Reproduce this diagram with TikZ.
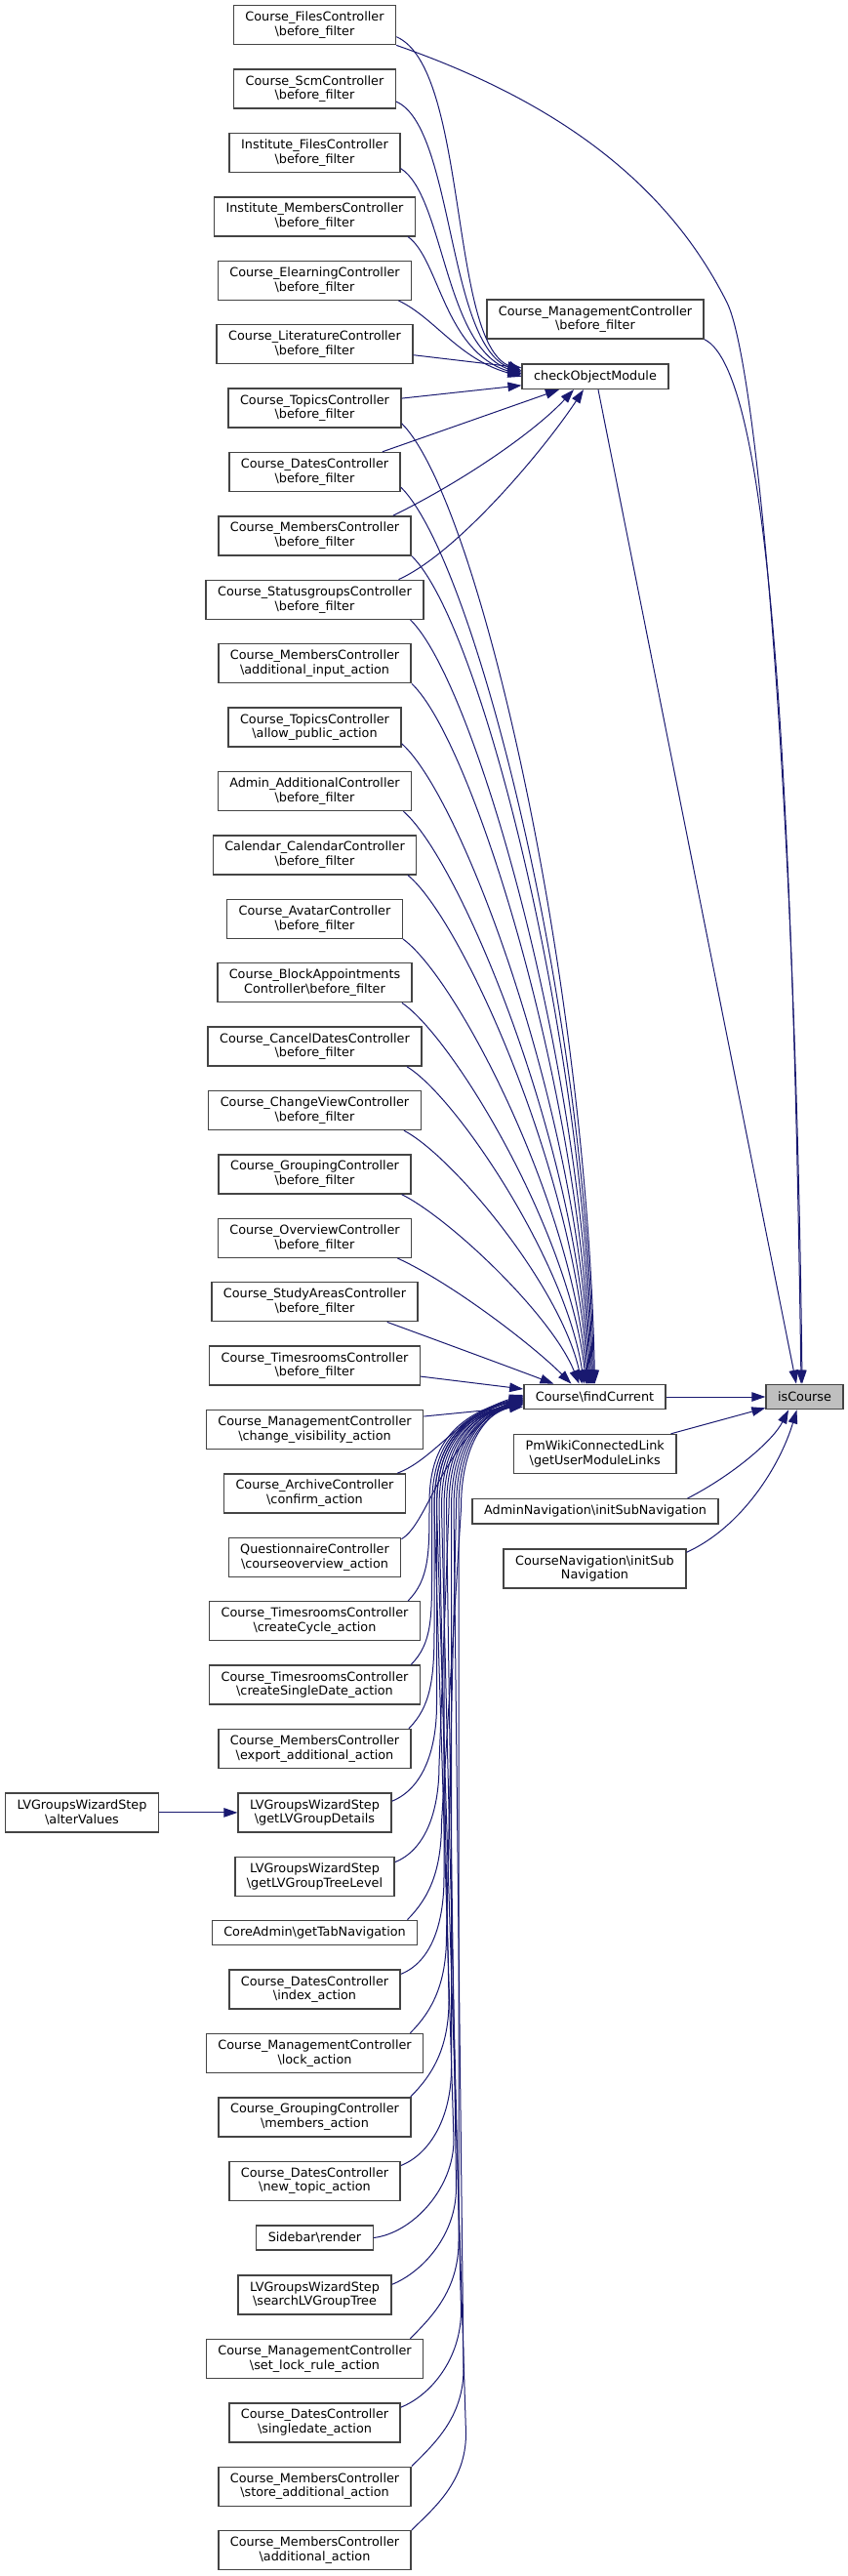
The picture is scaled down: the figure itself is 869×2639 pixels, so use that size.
\documentclass[tikz,border=0pt]{standalone}
\usepackage{fontspec}
\setmainfont{DejaVu Sans}
\usetikzlibrary{arrows.meta}
\definecolor{edgec}{HTML}{191970}
\definecolor{boxc}{HTML}{444444}
\definecolor{hlc}{HTML}{BFBFBF}
\newcommand{\bs}{\textbackslash}
\begin{document}
\begin{tikzpicture}[x=1pt,y=-1pt,
  fn/.style={draw=boxc, line width=1.4pt, fill=white, inner xsep=12pt, inner ysep=0pt, align=center, font=\fontsize{12.8pt}{14.7pt}\selectfont, minimum height=40pt},
  fn1/.style={fn, minimum height=25.3pt},
  edge/.style={draw=edgec, line width=1pt, -{Triangle[length=14pt,width=9.5pt]}}]
\useasboundingbox (0,0) rectangle (869,2639);
\fill[white] (0,0) rectangle (869,2639);
% left column
\node[fn] (n1) at (322.5,25.7) {Course\_FilesController\\\bs{}before\_filter};
\node[fn] (n2) at (322.5,91.1) {Course\_ScmController\\\bs{}before\_filter};
\node[fn] (n3) at (322.5,156.5) {Institute\_FilesController\\\bs{}before\_filter};
\node[fn] (n4) at (322.5,221.9) {Institute\_MembersController\\\bs{}before\_filter};
\node[fn] (n5) at (322.5,287.3) {Course\_ElearningController\\\bs{}before\_filter};
\node[fn] (n6) at (322.5,352.7) {Course\_LiteratureController\\\bs{}before\_filter};
\node[fn] (n7) at (322.5,418.1) {Course\_TopicsController\\\bs{}before\_filter};
\node[fn] (n8) at (322.5,483.5) {Course\_DatesController\\\bs{}before\_filter};
\node[fn] (n9) at (322.5,548.9) {Course\_MembersController\\\bs{}before\_filter};
\node[fn] (n10) at (322.5,614.3) {Course\_StatusgroupsController\\\bs{}before\_filter};
\node[fn] (n11) at (322.5,679.7) {Course\_MembersController\\\bs{}additional\_input\_action};
\node[fn] (n12) at (322.5,745.1) {Course\_TopicsController\\\bs{}allow\_public\_action};
\node[fn] (n13) at (322.5,810.5) {Admin\_AdditionalController\\\bs{}before\_filter};
\node[fn] (n14) at (322.5,875.9) {Calendar\_CalendarController\\\bs{}before\_filter};
\node[fn] (n15) at (322.5,941.3) {Course\_AvatarController\\\bs{}before\_filter};
\node[fn] (n16) at (322.5,1006.7) {Course\_BlockAppointments\\Controller\bs{}before\_filter};
\node[fn] (n17) at (322.5,1072.1) {Course\_CancelDatesController\\\bs{}before\_filter};
\node[fn] (n18) at (322.5,1137.5) {Course\_ChangeViewController\\\bs{}before\_filter};
\node[fn] (n19) at (322.5,1202.9) {Course\_GroupingController\\\bs{}before\_filter};
\node[fn] (n20) at (322.5,1268.3) {Course\_OverviewController\\\bs{}before\_filter};
\node[fn] (n21) at (322.5,1333.7) {Course\_StudyAreasController\\\bs{}before\_filter};
\node[fn] (n22) at (322.5,1399.1) {Course\_TimesroomsController\\\bs{}before\_filter};
\node[fn] (n23) at (322.5,1464.5) {Course\_ManagementController\\\bs{}change\_visibility\_action};
\node[fn] (n24) at (322.5,1529.9) {Course\_ArchiveController\\\bs{}confirm\_action};
\node[fn] (n25) at (322.5,1595.3) {QuestionnaireController\\\bs{}courseoverview\_action};
\node[fn] (n26) at (322.5,1660.7) {Course\_TimesroomsController\\\bs{}createCycle\_action};
\node[fn] (n27) at (322.5,1726.1) {Course\_TimesroomsController\\\bs{}createSingleDate\_action};
\node[fn] (n28) at (322.5,1791.5) {Course\_MembersController\\\bs{}export\_additional\_action};
\node[fn] (n29) at (322.5,1856.9) {LVGroupsWizardStep\\\bs{}getLVGroupDetails};
\node[fn] (n30) at (322.5,1922.3) {LVGroupsWizardStep\\\bs{}getLVGroupTreeLevel};
\node[fn1] (n31) at (322.5,1980) {CoreAdmin\bs{}getTabNavigation};
\node[fn] (n32) at (322.5,2038) {Course\_DatesController\\\bs{}index\_action};
\node[fn] (n33) at (322.5,2103.4) {Course\_ManagementController\\\bs{}lock\_action};
\node[fn] (n34) at (322.5,2168.8) {Course\_GroupingController\\\bs{}members\_action};
\node[fn] (n35) at (322.5,2234.2) {Course\_DatesController\\\bs{}new\_topic\_action};
\node[fn1] (n36) at (322.5,2292.5) {Sidebar\bs{}render};
\node[fn] (n37) at (322.5,2351) {LVGroupsWizardStep\\\bs{}searchLVGroupTree};
\node[fn] (n38) at (322.5,2416.4) {Course\_ManagementController\\\bs{}set\_lock\_rule\_action};
\node[fn] (n39) at (322.5,2481.8) {Course\_DatesController\\\bs{}singledate\_action};
\node[fn] (n40) at (322.5,2547.2) {Course\_MembersController\\\bs{}store\_additional\_action};
\node[fn] (n41) at (322.5,2612.6) {Course\_MembersController\\\bs{}additional\_action};
\node[fn] (av) at (84,1856.9) {LVGroupsWizardStep\\\bs{}alterValues};
% middle column
\node[fn] (cmb) at (610,327) {Course\_ManagementController\\\bs{}before\_filter};
\node[fn1] (com) at (610,385.8) {checkObjectModule};
\node[fn1] (fc) at (609.5,1431) {Course\bs{}findCurrent};
\node[fn] (pm) at (609.7,1489.5) {PmWikiConnectedLink\\\bs{}getUserModuleLinks};
\node[fn1] (an) at (610,1548.3) {AdminNavigation\bs{}initSubNavigation};
\node[fn] (cn) at (609.5,1607) {CourseNavigation\bs{}initSub\\Navigation};
\node[fn1, fill=hlc] (isc) at (824.5,1431) {isCourse};
% edges to checkObjectModule
\draw[edge] ([yshift=-12pt]n1.east) .. controls (480,70) and (460,350) .. ([yshift=6pt]com.west);
\draw[edge] ([yshift=-13pt]n2.east) .. controls (465,130) and (458,352) .. ([yshift=4.5pt]com.west);
\draw[edge] ([yshift=-16pt]n3.east) .. controls (455,200) and (455,355) .. ([yshift=3pt]com.west);
\draw[edge] ([xshift=-8pt]n4.south east) .. controls (450,265) and (455,360) .. ([yshift=1.5pt]com.west);
\draw[edge] ([xshift=-14pt]n5.south east) .. controls (445,325) and (470,368) .. ([yshift=0pt]com.west);
\draw[edge] ([yshift=-11pt]n6.east) -- ([yshift=9pt]com.west);
\draw[edge] ([yshift=10pt]n7.east) -- ([yshift=-9pt]com.west);
\draw[edge] ([xshift=-19pt]n8.north east) -- ([xshift=-37pt]com.south);
\draw[edge] ([xshift=-19pt]n9.north east) .. controls +(77,-38) and +(-38,41) .. ([xshift=-22pt]com.south);
\draw[edge] ([xshift=-26pt]n10.north east) .. controls +(62,-28) and +(-38,58) .. ([xshift=-12pt]com.south);
% edges to isCourse
\draw[edge] ([xshift=3pt]com.south) -- ([xshift=-8.5pt]isc.north);
\draw[edge] (cmb.south east) .. controls +(68,33) and +(-9,-619) .. ([xshift=-3.5pt]isc.north);
\draw[edge] (n1.south east) .. controls (560,100) and (680,180) .. (745,310) .. controls (775,370) and (815,800) .. ([xshift=-2.5pt]isc.north);
\draw[edge] (fc.east) -- (isc.west);
\draw[edge] ([xshift=-6pt]pm.north east) -- ([yshift=2pt]isc.south west);
\draw[edge] ([xshift=-32pt]an.north east) .. controls +(45,-23) and +(-16,32) .. ([xshift=-16.5pt]isc.south);
\draw[edge] ([yshift=-4pt]cn.north east) .. controls +(57,-26) and +(-17,57) .. ([xshift=-8pt]isc.south);
% alterValues
\draw[edge] (av.east) -- (n29.west);
% upper edges to findCurrent
\draw[edge] ([yshift=5pt]n7.south east) .. controls +(79,79) and +(-8,-414) .. ([xshift=0pt]fc.north);
\draw[edge] ([yshift=5pt]n8.south east) .. controls +(75,74) and +(-8,-390) .. ([xshift=-1pt]fc.north);
\draw[edge] (n9.south east) .. controls +(70,68) and +(-9,-360) .. ([xshift=-2pt]fc.north);
\draw[edge] ([xshift=-14pt]n10.south east) .. controls +(65,63) and +(-9,-330) .. ([xshift=-3pt]fc.north);
\draw[edge] (n11.south east) .. controls +(62,58) and +(-10,-300) .. ([xshift=-4pt]fc.north);
\draw[edge] ([yshift=4pt]n12.south east) .. controls +(62,55) and +(-10,-275) .. ([xshift=-5pt]fc.north);
\draw[edge] ([xshift=-9pt]n13.south east) .. controls +(58,50) and +(-11,-245) .. ([xshift=-6pt]fc.north);
\draw[edge] ([xshift=-9.5pt]n14.south east) .. controls +(55,45) and +(-12,-215) .. ([xshift=-7pt]fc.north);
\draw[edge] (n15.south east) .. controls +(55,40) and +(-14,-185) .. ([xshift=-8pt]fc.north);
\draw[edge] ([xshift=-11pt]n16.south east) .. controls +(52,35) and +(-16,-155) .. ([xshift=-9pt]fc.north);
\draw[edge] ([xshift=-15.5pt]n17.south east) .. controls +(50,30) and +(-18,-125) .. ([xshift=-11pt]fc.north);
\draw[edge] ([xshift=-18pt]n18.south east) .. controls +(50,26) and +(-22,-100) .. ([xshift=-13pt]fc.north);
\draw[edge] ([xshift=-10pt]n19.south east) .. controls +(50,25) and +(-28,-70) .. ([xshift=-16pt]fc.north);
\draw[edge] ([xshift=-15pt]n20.south east) .. controls +(55,25) and +(-40,-40) .. ([xshift=-24pt]fc.north);
\draw[edge] ([xshift=-32pt]n21.south east) .. controls +(60,22) and +(-45,-17) .. ([xshift=-42pt]fc.north);
\draw[edge] ([yshift=-11pt]n22.east) -- ([yshift=8pt]fc.west);
\draw[edge] ([yshift=13.5pt]n23.east) -- ([yshift=-10pt]fc.west);
% lower edges to findCurrent
\draw[edge] ([xshift=-9pt]n24.north east) .. controls (445,1495) and (470,1450) .. ([yshift=2pt]fc.west);
\draw[edge] ([yshift=-2pt]n25.north east) .. controls (440,1560) and (455,1470) .. ([yshift=1pt]fc.west);
\draw[edge] ([xshift=-13pt]n26.north east) .. controls +(22,-22) and (440,1590) .. (440,1540) .. controls (440,1490) and (458,1452) .. ([yshift=0pt]fc.west);
\draw[edge] ([xshift=-10pt]n27.north east) .. controls +(22,-22) and (442.5,1656) .. (442.5,1606) -- (442.5,1545) .. controls (442.5,1490) and (460.5,1452) .. ([yshift=-1pt]fc.west);
\draw[edge] ([xshift=-3pt]n28.north east) .. controls +(22,-22) and (445,1721) .. (445,1671) -- (445,1545) .. controls (445,1490) and (463,1452) .. ([yshift=-1.5pt]fc.west);
\draw[edge] ([yshift=-9pt]n29.north east) .. controls +(30,-12) and (447.5,1796) .. (447.5,1746) -- (447.5,1545) .. controls (447.5,1490) and (465.5,1452) .. ([yshift=-2pt]fc.west);
\draw[edge] ([yshift=-6pt]n30.north east) .. controls +(30,-12) and (450,1858) .. (450,1808) -- (460,1545) .. controls (460,1490) and (478,1452) .. ([yshift=-2.5pt]fc.west);
\draw[edge] ([xshift=-11pt]n31.north east) .. controls +(22,-22) and (452.5,1917) .. (452.5,1867) -- (472.5,1545) .. controls (472.5,1490) and (490.5,1452) .. ([yshift=-3pt]fc.west);
\draw[edge] ([yshift=-5pt]n32.north east) .. controls +(30,-12) and (455,1973) .. (455,1923) -- (455,1545) .. controls (455,1490) and (473,1452) .. ([yshift=-3.5pt]fc.west);
\draw[edge] ([xshift=-14pt]n33.north east) .. controls +(22,-22) and (457.5,2033) .. (457.5,1983) -- (467.5,1545) .. controls (467.5,1490) and (485.5,1452) .. ([yshift=-4pt]fc.west);
\draw[edge] ([xshift=-1pt]n34.north east) .. controls +(22,-22) and (460,2099) .. (460,2049) -- (450,1545) .. controls (450,1490) and (468,1452) .. ([yshift=-4.5pt]fc.west);
\draw[edge] ([yshift=-5pt]n35.north east) .. controls +(30,-12) and (462.5,2169) .. (462.5,2119) -- (462.5,1545) .. controls (462.5,1490) and (480.5,1452) .. ([yshift=-5pt]fc.west);
\draw[edge] (n36.east) .. controls +(40,-5) and (465,2242) .. (465,2192) -- (445,1545) .. controls (445,1490) and (463,1452) .. ([yshift=-5.5pt]fc.west);
\draw[edge] ([yshift=-10pt]n37.north east) .. controls +(30,-12) and (467.5,2291) .. (467.5,2241) -- (457.5,1545) .. controls (457.5,1490) and (475.5,1452) .. ([yshift=-6pt]fc.west);
\draw[edge] ([xshift=-14pt]n38.north east) .. controls +(22,-22) and (470,2346) .. (470,2296) -- (470,1545) .. controls (470,1490) and (488,1452) .. ([yshift=-6.5pt]fc.west);
\draw[edge] ([yshift=-5pt]n39.north east) .. controls +(30,-12) and (472.5,2417) .. (472.5,2367) -- (452.5,1545) .. controls (452.5,1490) and (470.5,1452) .. ([yshift=-7pt]fc.west);
\draw[edge] (n40.north east) .. controls +(22,-22) and (475,2477) .. (475,2427) -- (465,1545) .. controls (465,1490) and (483,1452) .. ([yshift=-7.5pt]fc.west);
\draw[edge] (n41.north east) .. controls +(22,-22) and (477.5,2543) .. (477.5,2493) -- (447.5,1545) .. controls (447.5,1490) and (465.5,1452) .. ([yshift=-8pt]fc.west);
\end{tikzpicture}
\end{document}
